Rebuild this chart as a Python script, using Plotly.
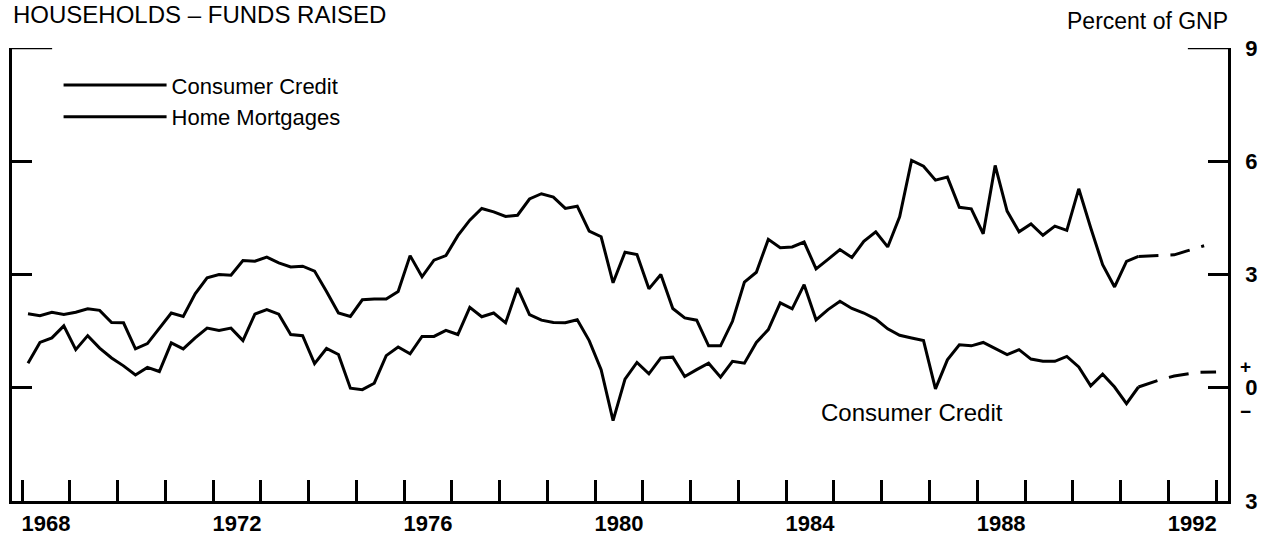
import plotly.graph_objects as go

# ---- data (percent of GNP, quarterly, 1968Q1 - 1991Q2) ----
start_year = 1968.125          # mid-point of 1968Q1
quarter_step = 0.25

home_mortgages = [
    1.96, 1.91, 2.00, 1.94,   # 1968
    2.00, 2.09, 2.05, 1.73,   # 1969
    1.72, 1.03, 1.17, 1.58,   # 1970
    1.98, 1.89, 2.49, 2.91,   # 1971
    3.00, 2.98, 3.37, 3.35,   # 1972
    3.46, 3.31, 3.20, 3.22,   # 1973
    3.09, 2.55, 1.98, 1.89,   # 1974
    2.33, 2.35, 2.35, 2.55,   # 1975
    3.50, 2.94, 3.38, 3.50,   # 1976
    4.03, 4.44, 4.75, 4.66,   # 1977
    4.54, 4.57, 5.00, 5.14,   # 1978
    5.05, 4.75, 4.81, 4.15,   # 1979
    4.00, 2.78, 3.59, 3.53,   # 1980
    2.62, 3.00, 2.10, 1.85,   # 1981
    1.79, 1.11, 1.11, 1.76,   # 1982
    2.80, 3.06, 3.93, 3.71,   # 1983
    3.73, 3.86, 3.15, 3.40,   # 1984
    3.66, 3.45, 3.88, 4.13,   # 1985
    3.73, 4.53, 6.02, 5.87,   # 1986
    5.50, 5.58, 4.78, 4.74,   # 1987
    4.08, 5.89, 4.68, 4.13,   # 1988
    4.34, 4.04, 4.28, 4.17,   # 1989
    5.27, 4.24, 3.26, 2.67,   # 1990
    3.35, 3.48,               # 1991
]

consumer_credit = [
    0.65, 1.20, 1.32, 1.64,   # 1968
    1.01, 1.38, 1.05, 0.79,   # 1969
    0.58, 0.34, 0.54, 0.43,   # 1970
    1.19, 1.03, 1.32, 1.58,   # 1971
    1.52, 1.58, 1.25, 1.95,   # 1972
    2.07, 1.95, 1.41, 1.38,   # 1973
    0.64, 1.04, 0.88, -0.01,  # 1974
    -0.05, 0.12, 0.85, 1.08,  # 1975
    0.90, 1.36, 1.36, 1.52,   # 1976
    1.41, 2.13, 1.88, 1.98,   # 1977
    1.72, 2.64, 1.94, 1.79,   # 1978
    1.73, 1.72, 1.80, 1.25,   # 1979
    0.48, -0.87, 0.23, 0.67,  # 1980
    0.37, 0.79, 0.81, 0.30,   # 1981
    0.48, 0.65, 0.28, 0.70,   # 1982
    0.65, 1.20, 1.54, 2.25,   # 1983
    2.09, 2.73, 1.80, 2.07,   # 1984
    2.29, 2.10, 1.98, 1.82,   # 1985
    1.56, 1.39, 1.32, 1.25,   # 1986
    -0.03, 0.74, 1.14, 1.11,  # 1987
    1.20, 1.03, 0.88, 1.01,   # 1988
    0.76, 0.70, 0.70, 0.83,   # 1989
    0.55, 0.05, 0.36, 0.02,   # 1990
    -0.42, 0.02,              # 1991
]

# projections (dashed)
mortgage_proj_x = [1991.375, 1991.625, 1991.875, 1992.125, 1992.375, 1992.75]
mortgage_proj = [3.48, 3.50, 3.50, 3.52, 3.62, 3.76]
cc_proj_x = [1991.375, 1991.625, 1991.875, 1992.125, 1992.375, 1992.625, 1993.0]
cc_proj = [0.02, 0.13, 0.23, 0.31, 0.36, 0.41, 0.42]

# axis labels
x_label_years = [1968, 1972, 1976, 1980, 1984, 1988, 1992]
y_tick_vals = [9, 6, 3, 0, -3]
y_tick_text = ["9", "6", "3", "0", "3"]
sign_tick_vals = [0.58, -0.62]
sign_tick_text = ["+", "\u2212"]

quarters = [start_year + quarter_step * i for i in range(len(home_mortgages))]

FONT = "Liberation Sans, Arial, Helvetica, sans-serif"
LINE = dict(color="black", width=3)
DASH = dict(color="black", width=3, dash="20px,12px")

fig = go.Figure()
fig.add_trace(go.Scatter(x=quarters, y=consumer_credit, mode="lines",
                         name="Consumer Credit", line=LINE))
fig.add_trace(go.Scatter(x=quarters, y=home_mortgages, mode="lines",
                         name="Home Mortgages", line=LINE))
fig.add_trace(go.Scatter(x=mortgage_proj_x, y=mortgage_proj, mode="lines",
                         showlegend=False, line=DASH, yaxis="y2"))
fig.add_trace(go.Scatter(x=cc_proj_x, y=cc_proj, mode="lines",
                         showlegend=False, line=DASH, yaxis="y2"))

fig.update_layout(
    width=1277, height=535,
    margin=dict(l=12, r=49, t=48, b=34, autoexpand=False),
    paper_bgcolor="white", plot_bgcolor="white",
    font=dict(family=FONT, color="black", size=22),
    title=dict(text="HOUSEHOLDS \u2013 FUNDS RAISED", x=13 / 1277, xanchor="left",
               y=1 - 6 / 535, yanchor="top", xref="container", yref="container",
               font=dict(size=24, family=FONT, color="black")),
    showlegend=True,
    legend=dict(x=0.0383, y=0.964, xanchor="left", yanchor="top",
                bgcolor="rgba(0,0,0,0)", itemwidth=103,
                font=dict(size=22, family=FONT, color="black"),
                tracegroupgap=0),
    xaxis=dict(
        range=[1967.79, 1993.25],
        tickmode="array",
        tickvals=[y + 0.5 for y in x_label_years],
        ticktext=[str(y) for y in x_label_years],
        ticks="", showgrid=False, zeroline=False,
        showline=True, linecolor="black", linewidth=3,
        tickfont=dict(size=22, family=FONT, color="black", weight="bold"),
        ticklabelstandoff=1,
        minor=dict(tickmode="linear", tick0=1968, dtick=1, ticks="inside",
                   ticklen=21, tickwidth=2.5, tickcolor="black", showgrid=False),
        fixedrange=True,
    ),
    yaxis=dict(
        range=[-3, 9], side="right",
        tickmode="array", tickvals=y_tick_vals, ticktext=y_tick_text,
        ticks="inside", ticklen=20, tickwidth=2.5, tickcolor="black",
        showline=True, linecolor="black", linewidth=2.5, mirror="ticks",
        showgrid=False, zeroline=False,
        tickfont=dict(size=22, family=FONT, color="black", weight="bold"),
        ticklabelstandoff=10,
        fixedrange=True,
    ),
    yaxis2=dict(
        range=[-3, 9], side="right", overlaying="y",
        tickmode="array", tickvals=sign_tick_vals, ticktext=sign_tick_text,
        ticks="", showline=False, showgrid=False, zeroline=False,
        tickfont=dict(size=19, family=FONT, color="black", weight="bold"),
        ticklabelstandoff=11,
        fixedrange=True,
    ),
    annotations=[
        dict(text="Percent of GNP", xref="paper", yref="paper", x=1.0016, y=1.0596,
             xanchor="right", yanchor="middle", showarrow=False,
             font=dict(size=23, family=FONT, color="black")),
        dict(text="Consumer Credit", xref="x", yref="y", x=1986.64, y=-0.66,
             xanchor="center", yanchor="middle", showarrow=False,
             font=dict(size=24, family=FONT, color="black")),
    ],
    shapes=[
        dict(type="line", xref="paper", yref="y", x0=0, x1=0.033, y0=9, y1=9,
             line=dict(color="black", width=2.5)),
        dict(type="line", xref="paper", yref="y", x0=0.967, x1=1, y0=9, y1=9,
             line=dict(color="black", width=2.5)),
    ],
)

fig.write_html(
    "out.html",
    config={"displayModeBar": False},
    post_script="document.body.style.margin='0';document.body.style.padding='0';",
)
